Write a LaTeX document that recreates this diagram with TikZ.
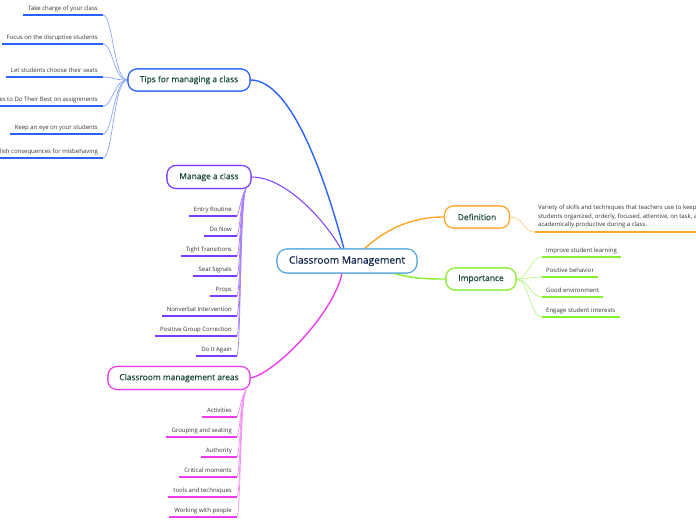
\documentclass[tikz,border=0pt]{standalone}
\usepackage{fontspec}
\setmainfont{Open Sans}
\newfontfamily\semib[FakeBold=0.6]{Open Sans}
\definecolor{cblue}{HTML}{2A62FF}
\definecolor{cbluel}{HTML}{86A6FF}
\definecolor{cpurp}{HTML}{7B3CFF}
\definecolor{cpurpl}{HTML}{A880FF}
\definecolor{cmag}{HTML}{EE3CF0}
\definecolor{cmagl}{HTML}{F490F5}
\definecolor{corg}{HTML}{FFA628}
\definecolor{corgl}{HTML}{FFCC80}
\definecolor{cgrn}{HTML}{88EE2E}
\definecolor{cgrnl}{HTML}{B8F58A}
\definecolor{ccent}{HTML}{5AA8DE}
\definecolor{ctext}{HTML}{1E4D3C}
\definecolor{cnavy}{HTML}{14284F}
\tikzset{
  topic/.style={draw, rounded corners=9pt, line width=1.1pt, fill=white,
    font=\semib\fontsize{8.4}{10}\selectfont, text=ctext, inner sep=0pt, minimum height=22pt},
  central/.style={topic, draw=ccent, text=cnavy, font=\semib\fontsize{10.2}{12}\selectfont,
    minimum height=24pt, minimum width=140pt, rounded corners=10pt},
  leaf/.style={inner xsep=5pt, inner ysep=3.5pt, font=\fontsize{6}{7}\selectfont,
    text=black!80, text height=4.5pt, text depth=1.3pt},
  uline/.style={line width=1.6pt},
  thin/.style={line width=0.7pt},
  mainln/.style={line width=1.4pt}
}
\begin{document}
\begin{tikzpicture}[x=1pt,y=-1pt]
\useasboundingbox (0,0) rectangle (696,520);
\coordinate (edge) at (696,0);
% topic nodes
\node[central] (cen) at (347,261) {Classroom Management};
\node[topic, draw=cblue, minimum width=122pt] (tips) at (189,80) {Tips for managing a class};
\node[topic, draw=cpurp, minimum width=84pt, minimum height=23pt] (man) at (209,177) {Manage a class};
\node[topic, draw=cmag, minimum width=142pt, minimum height=23pt] (area) at (179,378) {Classroom management areas};
\node[topic, draw=corg, minimum width=65pt] (def) at (477,217) {Definition};
\node[topic, draw=cgrn, minimum width=70pt] (imp) at (481,279) {Importance};
\coordinate (cTips) at (344,249);
\coordinate (cMan) at (341,249);
\coordinate (cArea) at (342,273);
\coordinate (cDef) at (364,249);
\coordinate (cImp) at (392,273);
\coordinate (mstart) at (246,189);
\coordinate (astart) at (246,390);
% leaves: tips
\foreach \n/\y/\t in {t1/15/Take charge of your class, t2/44/Focus on the disruptive students,
  t3/77/Let students choose their seats, t4/106/es to Do Their Best on assignments,
  t5/134/Keep an eye on your students, t6/158/lish consequences for misbehaving}
  \node[leaf, anchor=south east] (\n) at (103,\y) {\t};
% leaves: manage
\foreach \n/\y/\t in {m1/216/Entry Routine, m2/236/Do Now, m3/256/Tight Transitions,
  m4/276/Seat Signals, m5/296/Props, m6/316/Nonverbal Intervention,
  m7/336/Positive Group Correction, m8/356/Do It Again}
  \node[leaf, anchor=south east] (\n) at (237,\y) {\t};
% leaves: areas
\foreach \n/\y/\t in {a1/417/Activities, a2/437/Grouping and seating, a3/457/Authority,
  a4/477/Critical moments, a5/497/tools and techniques, a6/517/Working with people}
  \node[leaf, anchor=south east] (\n) at (237,\y) {\t};
% leaves: importance
\foreach \n/\y/\t in {i1/257/Improve student learning, i2/277/Positive behavior,
  i3/297/Good environment, i4/317/Engage student interests}
  \node[leaf, anchor=south west, inner xsep=4pt] (\n) at (542,\y) {\t};
% definition text
\node[leaf, anchor=south west, inner xsep=3pt, align=left, text height=, text depth=,
  font=\fontsize{6}{8.5}\selectfont] (dt) at (535,232)
  {Variety of skills and techniques that teachers use to keep\\
   students organized, orderly, focused, attentive, on task, and\\
   academically productive during a class.};
% main connectors
\draw[cblue, mainln] (cTips) .. controls +(-20,-75) and +(40,0) .. (tips.east);
\draw[cpurp, line width=1pt] (cMan) .. controls +(-15,-27) and +(35,0) .. (man.east);
\draw[cmag, mainln] (cArea) .. controls +(-8,40) and +(25,-5) .. (area.east);
\draw[corg, mainln] (cDef) .. controls +(20,-18) and +(-35,0) .. (def.west);
\draw[cgrn, mainln] (cImp) .. controls +(20,5) and +(-25,0) .. (imp.west);
% child connectors
\foreach \n in {t1,t2,t3,t4,t5,t6}
  \draw[cbluel, thin] (tips.west) .. controls +(-14,0) and +(10,0) .. (\n.south east);
\foreach \n in {m1,m2,m3,m4,m5,m6,m7,m8}
  \draw[cpurpl, thin] (mstart) .. controls +(-6,10) and +(4,-10) .. (\n.south east);
\foreach \n in {a1,a2,a3,a4,a5,a6}
  \draw[cmagl, thin] (astart) .. controls +(-6,10) and +(4,-10) .. (\n.south east);
\foreach \n in {i1,i2,i3,i4}
  \draw[cgrnl, thin] (imp.east) .. controls +(12,0) and +(-12,0) .. (\n.south west);
\draw[corgl, thin] (def.east) .. controls +(14,0) and +(-12,0) .. (dt.south west);
% underlines
\foreach \n in {t1,t2,t3,t4,t5,t6} \draw[cblue, uline] (\n.south west) -- (\n.south east);
\foreach \n in {m1,m2,m3,m4,m5,m6,m7,m8} \draw[cpurp, uline] (\n.south west) -- (\n.south east);
\foreach \n in {a1,a2,a3,a4,a5,a6} \draw[cmag, uline] (\n.south west) -- (\n.south east);
\foreach \n in {i1,i2,i3,i4} \draw[cgrn, uline] (\n.south west) -- (\n.south east);
\draw[corg, uline] (dt.south west) -- (dt.south west -| edge);
% redraw topic nodes over connectors
\node[central] at (cen) {Classroom Management};
\node[topic, draw=cblue, minimum width=122pt] at (tips) {Tips for managing a class};
\node[topic, draw=cpurp, minimum width=84pt, minimum height=23pt] at (man) {Manage a class};
\node[topic, draw=cmag, minimum width=142pt, minimum height=23pt] at (area) {Classroom management areas};
\node[topic, draw=corg, minimum width=65pt] at (def) {Definition};
\node[topic, draw=cgrn, minimum width=70pt] at (imp) {Importance};
\end{tikzpicture}
\end{document}
